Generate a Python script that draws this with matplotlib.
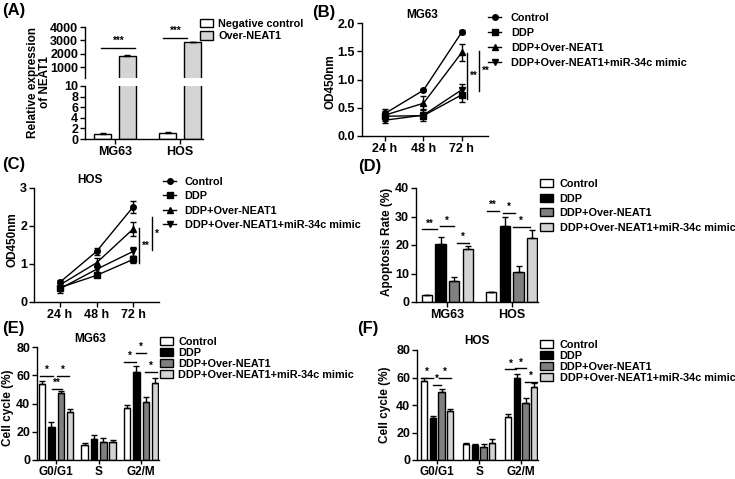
import matplotlib
matplotlib.use("Agg")
from matplotlib import pyplot as plt
from matplotlib.patches import Patch
from matplotlib.lines import Line2D
import numpy as np

plt.rcParams["font.family"] = ["Liberation Sans", "DejaVu Sans"]
plt.rcParams["font.weight"] = "bold"
plt.rcParams["axes.linewidth"] = 1.0
plt.rcParams["xtick.major.width"] = 1.0
plt.rcParams["ytick.major.width"] = 1.0
plt.rcParams["xtick.major.size"] = 3.5
plt.rcParams["ytick.major.size"] = 3.5
plt.rcParams["xtick.major.pad"] = 1.5
plt.rcParams["ytick.major.pad"] = 1.5
plt.rcParams["xtick.labelsize"] = 9
plt.rcParams["ytick.labelsize"] = 9

# (A) NEAT1 expression
cells = ["MG63", "HOS"]
neat1_neg = [1.0, 1.1]
neat1_neg_err = [0.15, 0.15]
neat1_over = [1850, 2850]
neat1_over_err = [30, 25]

# (B)/(C) CCK-8, rows: Control, DDP, DDP+Over-NEAT1, +mimic
times = ["24 h", "48 h", "72 h"]
groups = ["Control", "DDP", "DDP+Over-NEAT1", "DDP+Over-NEAT1+miR-34c mimic"]
mg63_od = [[0.40, 0.81, 1.84], [0.35, 0.36, 0.73], [0.37, 0.58, 1.48], [0.28, 0.37, 0.82]]
mg63_od_err = [[0.05, 0.02, 0.04], [0.06, 0.05, 0.12], [0.10, 0.12, 0.15], [0.05, 0.10, 0.10]]
hos_od = [[0.52, 1.33, 2.50], [0.38, 0.70, 1.12], [0.45, 1.03, 1.92], [0.35, 0.86, 1.33]]
hos_od_err = [[0.06, 0.10, 0.15], [0.05, 0.05, 0.09], [0.06, 0.12, 0.18], [0.10, 0.08, 0.12]]

# (D) apoptosis, rows = groups, cols = cells
apop = [[2.5, 3.5], [20.5, 26.5], [7.3, 10.5], [18.5, 22.5]]
apop_err = [[0.0, 0.0], [2.3, 3.2], [1.3, 2.3], [1.2, 2.8]]

# (E)/(F) cell cycle, rows = groups, cols = phases
phases = ["G0/G1", "S", "G2/M"]
mg63_cc = [[53.5, 10.5, 36.5], [23.5, 14.8, 62.5], [47.5, 12.8, 40.8], [34.0, 13.0, 54.5]]
mg63_cc_err = [[2.3, 1.5, 2.5], [3.2, 3.0, 4.0], [1.3, 2.5, 3.8], [2.0, 1.0, 3.2]]
hos_cc = [[57.5, 11.4, 31.5], [30.5, 10.6, 59.5], [49.5, 9.5, 41.5], [36.0, 12.5, 53.0]]
hos_cc_err = [[1.8, 1.2, 2.3], [1.3, 1.0, 3.0], [2.0, 1.8, 3.5], [1.0, 2.5, 3.3]]

bar_colors = ["white", "black", "#808080", "#d3d3d3"]
line_markers = ["o", "s", "^", "v"]

# significance marks: (x0, x1, y, text)
sig_a_top = [(-0.21, 0.31, 2425, "***"), (0.74, 1.11, 3175, "***")]
sig_b = [(2.13, 1.47, 0.65, "**"), (2.44, 1.50, 0.80, "**")]
sig_c = [(2.16, 1.95, 1.03, "**"), (2.52, 2.24, 1.37, "*")]
sig_d = [(-0.40, -0.16, 25.5, "**"), (-0.12, 0.10, 26.5, "*"), (0.15, 0.33, 20.8, "*"),
         (0.61, 0.81, 32.0, "**"), (0.86, 1.05, 31.2, "*"), (1.02, 1.28, 26.4, "*")]
sig_e = [(-0.38, -0.07, 59.6, "*"), (0.02, 0.31, 59.6, "*"), (-0.09, 0.14, 50.5, "**"),
         (1.60, 1.88, 69.5, "*"), (1.88, 2.12, 75.8, "*"), (2.09, 2.38, 62.5, "*")]
sig_f = [(-0.38, -0.10, 60.0, "*"), (-0.10, 0.10, 54.6, "*"), (0.05, 0.33, 60.0, "*"),
         (1.62, 1.88, 66.0, "*"), (1.86, 2.12, 66.8, "*"), (2.10, 2.38, 57.0, "*")]

W, H = 735, 479
fig = plt.figure(figsize=(W / 100, H / 100), dpi=100)


def box(l, t, r, b):
    return fig.add_axes([l / W, 1 - b / H, (r - l) / W, (b - t) / H])


def clean(ax):
    ax.spines["top"].set_visible(False)
    ax.spines["right"].set_visible(False)


def figtext(x, y, s, **kw):
    fig.text(x / W, 1 - y / H, s, **kw)


def add_legend(ax, handles, x, y, spacing, tpad=0.5):
    ax.legend(handles, groups, loc="upper left", bbox_to_anchor=(x / W, 1 - y / H),
              bbox_transform=fig.transFigure, frameon=False, fontsize=7.8,
              handlelength=1.2, handleheight=0.8, handletextpad=tpad,
              labelspacing=spacing, borderpad=0, borderaxespad=0)


def hsig(ax, marks, dy):
    for x0, x1, y, s in marks:
        ax.plot([x0, x1], [y, y], color="black", lw=1, clip_on=False)
        ax.text((x0 + x1) / 2, y + dy, s, ha="center", va="bottom", fontsize=7)


def group_bars(ax, vals, errs, off, width):
    n = len(vals[0])
    x = np.arange(n)
    for i in range(4):
        ax.bar(x + off[i], vals[i], width, color=bar_colors[i], edgecolor="black", lw=1,
               yerr=[np.zeros(n), errs[i]], capsize=2.2,
               error_kw=dict(elinewidth=1, capthick=1, ecolor="black"))
    return x


# ---- (A)
axA1 = box(85, 27, 203, 78)
axA2 = box(85, 86, 203, 139)
xa = np.arange(len(cells))
for ax in (axA1, axA2):
    ax.bar(xa - 0.19, neat1_neg, 0.26, color="white", edgecolor="black", lw=1,
           yerr=[[0, 0], neat1_neg_err], capsize=2.5, error_kw=dict(elinewidth=1, capthick=1))
    ax.bar(xa + 0.19, neat1_over, 0.26, color="#d4d4d4", edgecolor="black", lw=1,
           yerr=[[0, 0], neat1_over_err], capsize=2.5, error_kw=dict(elinewidth=1, capthick=1))
    ax.set_xlim(-0.46, 1.35)
    clean(ax)
axA1.set_ylim(175, 4000)
axA1.set_yticks([1000, 2000, 3000, 4000])
axA1.spines["bottom"].set_visible(False)
axA1.set_xticks([])
axA2.set_ylim(0, 10)
axA2.set_yticks(range(0, 11, 2))
axA2.set_xticks(xa)
axA2.set_xticklabels(cells)
hsig(axA1, sig_a_top, 150)
add_legend(axA1, [Patch(facecolor="white", edgecolor="black"),
                  Patch(facecolor="#d4d4d4", edgecolor="black")], 200, 19, 0.2)
axA1.get_legend().texts[0].set_text("Negative control")
axA1.get_legend().texts[1].set_text("Over-NEAT1")
for t in axA1.get_legend().texts[2:]:
    t.set_visible(False)
figtext(39, 82, "Relative expression\nof NEAT1", rotation=90, ha="center", va="center",
        fontsize=8.5, linespacing=1.1)


# ---- (B) and (C)
def od_panel(ax, vals, errs, sig, ymax, yt, fmt):
    x = np.arange(len(times))
    for i in range(4):
        ax.errorbar(x, vals[i], yerr=errs[i], color="black", lw=1, marker=line_markers[i],
                    ms=4, capsize=2.2, elinewidth=1, capthick=1)
    ax.set_ylim(0, ymax)
    ax.set_yticks(yt)
    ax.set_yticklabels([fmt.format(v) for v in yt])
    ax.set_xticks(x)
    ax.set_xticklabels(times)
    clean(ax)
    for xs, y0, y1, s in sig:
        ax.plot([xs, xs], [y0, y1], color="black", lw=1)
        ax.text(xs + 0.07, (y0 + y1) / 2, s, ha="left", va="center", fontsize=7)
    return [Line2D([], [], color="black", lw=1, marker=m, ms=4) for m in line_markers]


axB = box(362, 23, 488, 136)
hB = od_panel(axB, mg63_od, mg63_od_err, sig_b, 2.0, [0, 0.5, 1.0, 1.5, 2.0], "{:.1f}")
axB.set_xlim(-0.6, 2.68)
axB.text(0.476, 1.07, "MG63", transform=axB.transAxes, ha="center", va="center", fontsize=8.5)
add_legend(axB, hB, 488, 13, 0.45, tpad=0.9)
figtext(330, 82, "OD450nm", rotation=90, ha="center", va="center", fontsize=8.5)

axC = box(34, 188, 159, 302)
hC = od_panel(axC, hos_od, hos_od_err, sig_c, 3, [0, 1, 2, 3], "{:d}")
axC.set_xlim(-0.71, 2.71)
axC.text(0.448, 1.07, "HOS", transform=axC.transAxes, ha="center", va="center", fontsize=8.5)
add_legend(axC, hC, 163, 177, 0.4, tpad=0.8)
figtext(13, 240, "OD450nm", rotation=90, ha="center", va="center", fontsize=8.5)

# ---- (D)
axD = box(416, 188, 538, 302)
off_d = [-0.32, -0.107, 0.107, 0.32]
xd = group_bars(axD, apop, apop_err, off_d, 0.16)
axD.set_xlim(-0.49, 1.41)
axD.set_ylim(0, 40)
axD.set_yticks(range(0, 41, 10))
axD.set_xticks(xd)
axD.set_xticklabels(cells)
clean(axD)
hsig(axD, sig_d, 0.3)
add_legend(axD, [Patch(facecolor=c, edgecolor="black") for c in bar_colors], 540, 179, 0.42,
           tpad=0.6)
figtext(387, 242, "Apoptosis Rate (%)", rotation=90, ha="center", va="center", fontsize=8.5)

# ---- (E) and (F)
off_cc = [-0.33, -0.11, 0.11, 0.33]
axE = box(37, 347, 159, 460)
xe = group_bars(axE, mg63_cc, mg63_cc_err, off_cc, 0.155)
axE.set_xlim(-0.45, 2.42)
axE.text(0.434, 1.07, "MG63", transform=axE.transAxes, ha="center", va="center", fontsize=8.5)
hsig(axE, sig_e, 0.5)
add_legend(axE, [Patch(facecolor=c, edgecolor="black") for c in bar_colors], 160, 337, 0.08)
figtext(8, 408, "Cell cycle (%)", rotation=90, ha="center", va="center", fontsize=8.5)

axF = box(417, 350, 538, 460)
xf = group_bars(axF, hos_cc, hos_cc_err, [-0.31, -0.104, 0.104, 0.31], 0.15)
axF.set_xlim(-0.48, 2.40)
axF.text(0.496, 1.08, "HOS", transform=axF.transAxes, ha="center", va="center", fontsize=8.5)
hsig(axF, sig_f, 0.5)
add_legend(axF, [Patch(facecolor=c, edgecolor="black") for c in bar_colors], 540, 340, 0.08,
           tpad=0.6)
figtext(385, 405, "Cell cycle (%)", rotation=90, ha="center", va="center", fontsize=8.5)

for ax, x in ((axE, xe), (axF, xf)):
    ax.set_ylim(0, 80)
    ax.set_yticks(range(0, 81, 20))
    ax.set_xticks(x)
    ax.set_xticklabels(phases)
    ax.tick_params(axis="x", labelsize=8.5, length=3, pad=1)
    clean(ax)

# panel letters
for lab, x, y in (("(A)", 2, 10), ("(B)", 312, 12), ("(C)", 2, 165),
                  ("(D)", 358, 166), ("(E)", 2, 328), ("(F)", 357, 328)):
    figtext(x, y, lab, ha="left", va="center", fontsize=12)

fig.savefig("out.png", dpi=100)
